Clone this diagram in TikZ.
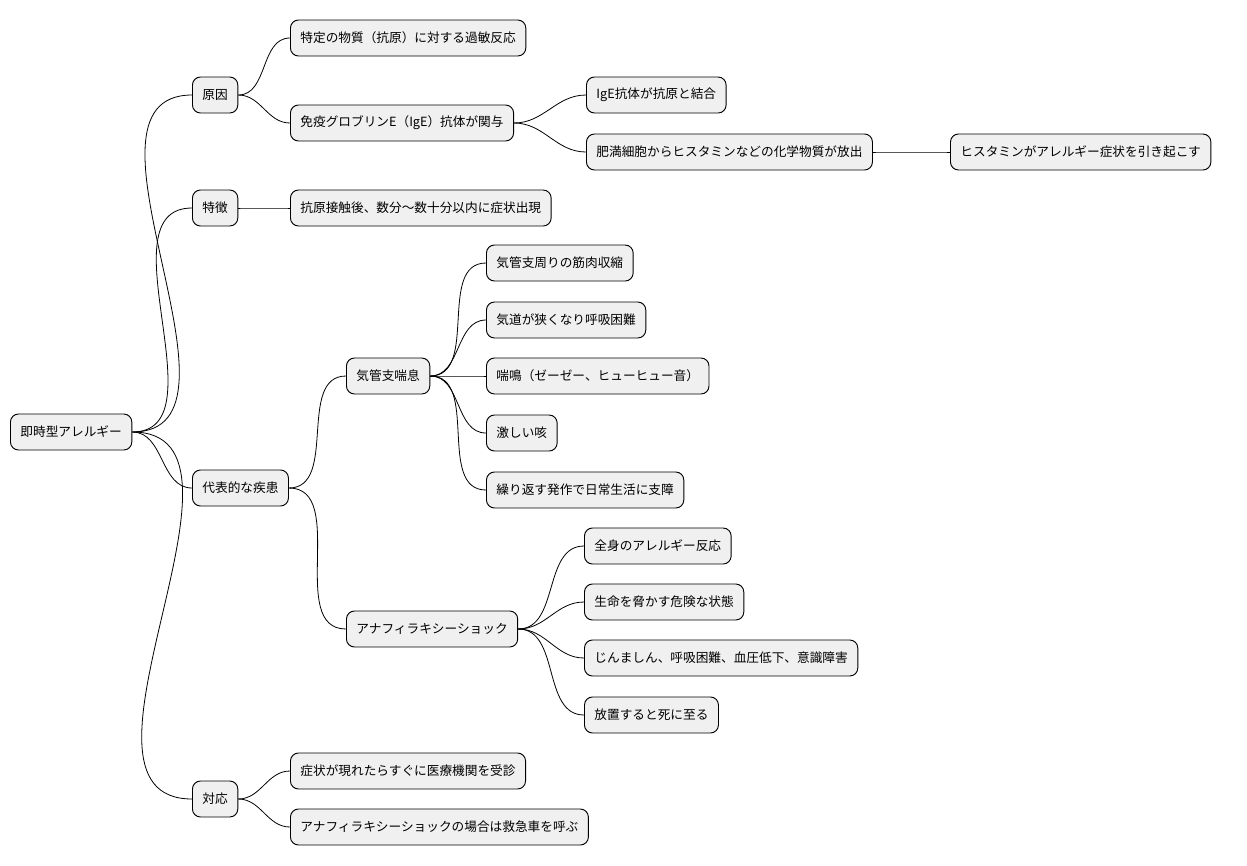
\documentclass[tikz,border=0pt]{standalone}
\usepackage{fontspec}
\setmainfont{Noto Sans CJK JP}
\begin{document}
\begin{tikzpicture}[x=0.75pt,y=-0.75pt,
  n/.style={draw=black,fill=gray!12,rounded corners=6pt,minimum height=27pt,inner xsep=7.5pt,anchor=west,font=\fontsize{9.5pt}{11pt}\selectfont,line width=0.7pt},
  e/.style={draw=black,line width=0.6pt}]
\useasboundingbox (0,0) rectangle (1247,865);
\node[n] (r) at (10,432) {即時型アレルギー};
\node[n] (a) at (192,95) {原因};
\node[n] (a1) at (290,38) {特定の物質（抗原）に対する過敏反応};
\node[n] (a2) at (290,123) {免疫グロブリンE（IgE）抗体が関与};
\node[n] (a21) at (586,95) {IgE抗体が抗原と結合};
\node[n] (a22) at (586,152) {肥満細胞からヒスタミンなどの化学物質が放出};
\node[n] (a221) at (950,152) {ヒスタミンがアレルギー症状を引き起こす};
\node[n] (b) at (192,208) {特徴};
\node[n] (b1) at (290,208) {抗原接触後、数分〜数十分以内に症状出現};
\node[n] (c) at (192,488) {代表的な疾患};
\node[n] (c1) at (346,376) {気管支喘息};
\node[n] (c11) at (486,263) {気管支周りの筋肉収縮};
\node[n] (c12) at (486,320) {気道が狭くなり呼吸困難};
\node[n] (c13) at (486,376) {喘鳴（ゼーゼー、ヒューヒュー音）};
\node[n] (c14) at (486,433) {激しい咳};
\node[n] (c15) at (486,490) {繰り返す発作で日常生活に支障};
\node[n] (c2) at (346,629) {アナフィラキシーショック};
\node[n] (c21) at (584,546) {全身のアレルギー反応};
\node[n] (c22) at (584,602) {生命を脅かす危険な状態};
\node[n] (c23) at (584,658) {じんましん、呼吸困難、血圧低下、意識障害};
\node[n] (c24) at (584,715) {放置すると死に至る};
\node[n] (d) at (192,799) {対応};
\node[n] (d1) at (290,771) {症状が現れたらすぐに医療機関を受診};
\node[n] (d2) at (290,827) {アナフィラキシーショックの場合は救急車を呼ぶ};
\foreach \p/\c in {r/a,r/b,r/c,r/d,a/a1,a/a2,a2/a21,a2/a22,a22/a221,b/b1,c/c1,c/c2,c1/c11,c1/c12,c1/c13,c1/c14,c1/c15,c2/c21,c2/c22,c2/c23,c2/c24,d/d1,d/d2}
  \draw[e] (\p.east) to[out=0,in=180] (\c.west);
\end{tikzpicture}
\end{document}
